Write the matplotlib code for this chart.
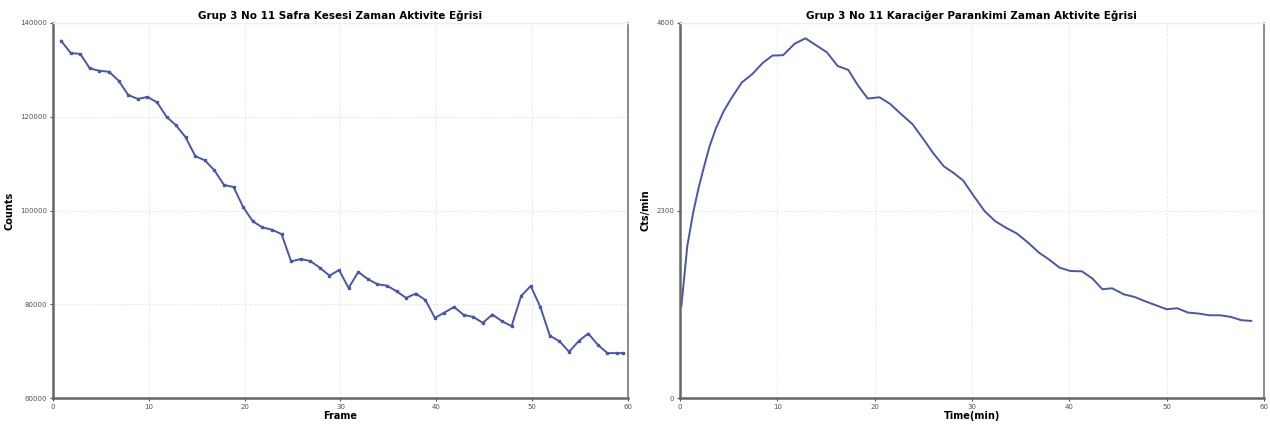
import numpy as np
import matplotlib
matplotlib.use("Agg")
import matplotlib.pyplot as plt

# gallbladder curve (counts per frame)
frame = np.arange(0.85, 60, 1.0)
frame[-1] = 59.5
counts = [136200, 133600, 133400, 130300, 129800, 129600, 127700, 124650, 123800, 124230,
          123100, 120000, 118150, 115600, 111600, 110700, 108550, 105450, 105000, 100700,
          97700, 96400, 95900, 94970, 89150, 89650, 89220, 87800, 86100, 87300,
          83480, 86880, 85390, 84250, 83970, 82770, 81350, 82270, 80920, 77090,
          78230, 79430, 77730, 77300, 76030, 77800, 76380, 75320, 81770, 83900,
          79430, 73260, 72130, 69860, 72130, 73760, 71350, 69580, 69580, 69580]

# liver parenchyma curve (cts/min over time)
t_min = [0.15, 0.75, 1.35, 1.9, 2.5, 3.05, 3.7, 4.5, 5.3, 6.35, 7.45, 8.5, 9.5, 10.6,
         11.8, 12.9, 14.0, 15.1, 16.2, 17.3, 18.3, 19.3, 20.5, 21.6, 22.7, 23.9, 25.0,
         26.0, 27.1, 28.1, 29.1, 30.2, 31.3, 32.4, 33.5, 34.6, 35.7, 36.9, 37.9, 39.0,
         40.1, 41.3, 42.4, 43.4, 44.4, 45.6, 46.7, 47.7, 48.9, 50.0, 51.1, 52.2, 53.3,
         54.4, 55.5, 56.6, 57.7, 58.7]
cts = [1130, 1860, 2270, 2570, 2850, 3090, 3310, 3520, 3680, 3870, 3975, 4110, 4200, 4205,
       4347, 4412, 4326, 4240, 4073, 4024, 3832, 3673, 3689, 3607, 3485, 3358, 3178,
       3007, 2843, 2762, 2668, 2476, 2292, 2169, 2088, 2019, 1913, 1782, 1701, 1599,
       1558, 1554, 1464, 1334, 1346, 1272, 1240, 1191, 1138, 1089, 1101, 1048, 1036,
       1015, 1015, 995, 954, 946]

LINE = "#4a56aa"

fig = plt.figure(figsize=(12.7, 4.25), dpi=100)
ax1 = fig.add_axes([0.0417, 0.0635, 0.4528, 0.8824])
ax2 = fig.add_axes([0.5354, 0.0635, 0.4598, 0.8824])


def style(ax, title, xlabel, ylabel):
    ax.set_title(title, fontsize=7.5, fontweight="bold", pad=3)
    ax.set_xlabel(xlabel, fontsize=7, fontweight="bold", labelpad=1)
    ax.set_ylabel(ylabel, fontsize=7, fontweight="bold", labelpad=4)
    ax.grid(True, color="#e6e6e6", lw=0.6, ls=(0, (3, 2)))
    ax.set_axisbelow(True)
    ax.tick_params(labelsize=5, colors="#555555", length=2, width=0.8, pad=2)
    for s in ("left", "bottom"):
        ax.spines[s].set_color("#666666")
        ax.spines[s].set_linewidth(1.8)
    ax.spines["right"].set_color("#777777")
    ax.spines["right"].set_linewidth(1.2)
    ax.spines["top"].set_color("#eeeeee")
    ax.spines["top"].set_linewidth(1.0)


ax1.plot(frame, counts, color=LINE, lw=1.4, marker="s", ms=1.7)
ax1.set_xlim(0, 60)
ax1.set_ylim(60000, 140000)
ax1.set_xticks(range(0, 61, 10))
ax1.set_yticks([60000, 80000, 100000, 120000, 140000])
style(ax1, "Grup 3 No 11 Safra Kesesi Zaman Aktivite Eğrisi", "Frame", "Counts")

ax2.plot(t_min, cts, color=LINE, lw=1.4)
ax2.set_xlim(0, 60)
ax2.set_ylim(0, 4600)
ax2.set_xticks(range(0, 61, 10))
ax2.set_yticks([0, 2300, 4600])
style(ax2, "Grup 3 No 11 Karaciğer Parankimi Zaman Aktivite Eğrisi", "Time(min)", "Cts/min")

fig.savefig("out.png", dpi=100)
